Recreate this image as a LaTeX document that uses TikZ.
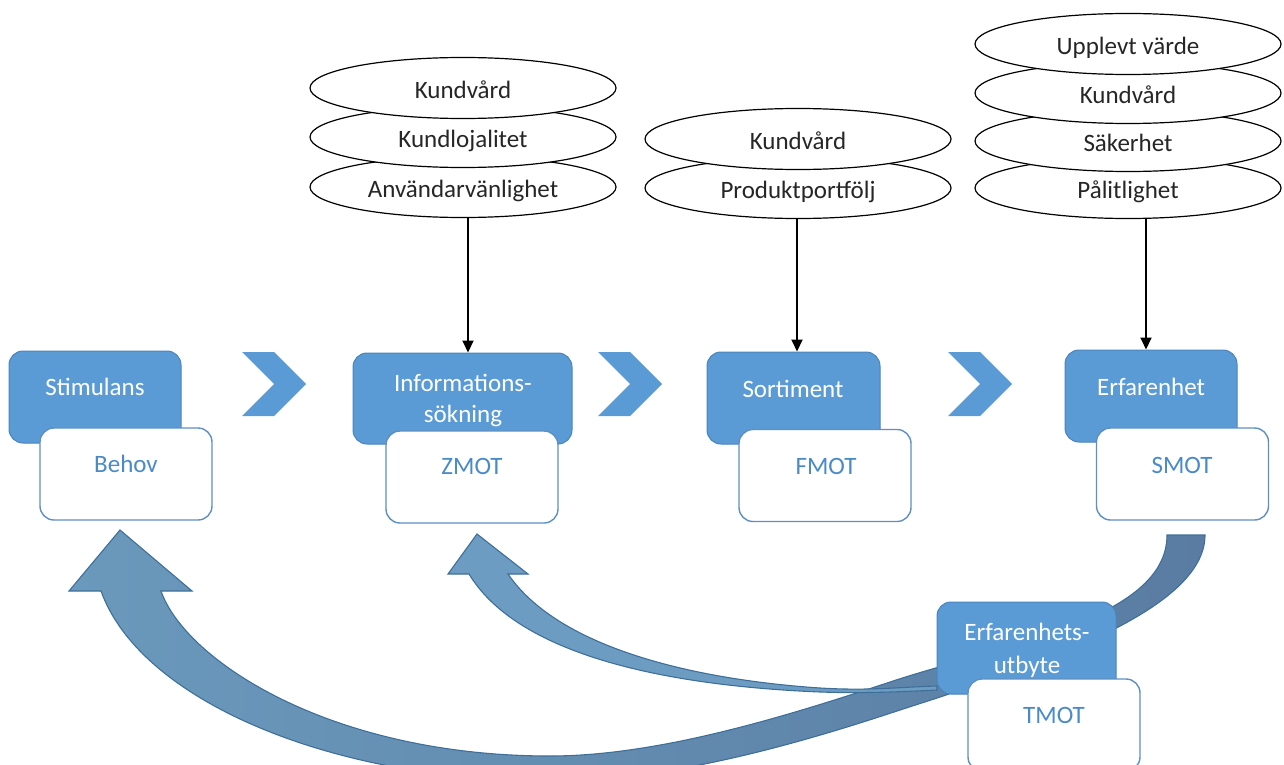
\documentclass[tikz,border=0pt]{standalone}
\usepackage{fontspec}
\setmainfont{Carlito}
\usetikzlibrary{arrows.meta,calc,shapes.geometric}
\definecolor{boxblue}{HTML}{5B9BD5}
\definecolor{boxedge}{HTML}{4A84BC}
\definecolor{wedge}{HTML}{5E8FC2}
\definecolor{txtblue}{HTML}{4A8AC9}
\definecolor{arrA}{HTML}{6A99BC}
\definecolor{arrB}{HTML}{5A7CA2}
\definecolor{arrC}{HTML}{6C9CC1}
\definecolor{arredge}{HTML}{3F6F99}
\definecolor{ovaltext}{HTML}{262626}
\begin{document}
\begin{tikzpicture}[x=1pt,y=-1pt,
  every node/.style={font=\fontsize{25}{31}\selectfont},
  bluebox/.style={draw=boxedge, line width=1pt, fill=boxblue, rounded corners=14pt, minimum height=92pt, inner sep=0pt},
  whitebox/.style={draw=wedge, line width=1.4pt, fill=white, rounded corners=14pt, minimum width=172pt, minimum height=92pt, inner sep=0pt},
  btext/.style={text=white, anchor=base, inner sep=0pt},
  wtext/.style={text=txtblue, anchor=base, inner sep=0pt},
  oval/.style={ellipse, draw=black, line width=1.2pt, fill=white, minimum width=306pt, minimum height=61pt, inner sep=0pt, text=ovaltext, text height=23pt, text depth=2pt},
  chev/.style={fill=boxblue},
  arr/.style={line width=2pt, -{Triangle[length=12pt,width=11pt]}},
  bigarrow/.style={draw=arredge, line width=1.1pt},
]
\clip (0,0) rectangle (1284,765);

% ---- ellipse stacks (drawn bottom first) ----
\node[oval] (e1c) at (463,187) {Användarvänlighet};
\node[oval] (e1b) at (463,137) {Kundlojalitet};
\node[oval] (e1a) at (463,88) {Kundvård};

\node[oval] (e2b) at (798,188) {Produktportfölj};
\node[oval] (e2a) at (798,139) {Kundvård};

\node[oval] (e3d) at (1128,188) {Pålitlighet};
\node[oval] (e3c) at (1128,141) {Säkerhet};
\node[oval] (e3b) at (1128,93) {Kundvård};
\node[oval] (e3a) at (1128,44) {Upplevt värde};

% ---- chevrons ----
\foreach \dx in {0,356,706}{
  \fill[chev] (242+\dx,352) -- (274+\dx,352) -- (306+\dx,384) -- (274+\dx,416) -- (242+\dx,416) -- (274+\dx,384) -- cycle;
}

% ---- big curved arrow (SMOT -> Behov) ----
\path[bigarrow, left color=arrA, right color=arrB]
 (120,530) -- (192,591) -- (161,591)
 .. controls (185,660) and (330,756) .. (550,756)
 .. controls (660,756) and (790,715) .. (887,683)
 .. controls (1000,645) and (1167,620) .. (1167,535)
 -- (1205,535)
 .. controls (1205,610) and (1040,665) .. (900,710)
 .. controls (780,750) and (660,781) .. (550,781)
 .. controls (330,781) and (140,700) .. (101,591)
 -- (69,591) -- cycle;

% ---- second curved arrow (TMOT -> ZMOT) ----
\path[bigarrow, fill=arrC]
 (477,534) -- (528,574) -- (508,574)
 .. controls (560,650) and (700,680) .. (820,688)
 .. controls (870,691) and (900,687) .. (937,686)
 -- (937,690)
 .. controls (880,693) and (850,693) .. (820,692)
 .. controls (650,685) and (515,650) .. (469,574)
 -- (448,574) -- cycle;

% ---- stage boxes ----
\node[bluebox, minimum width=172pt] (b1) at (95,397) {};
\node[whitebox] (w1) at (126,474) {};
\node[btext] (t1) at (95,395) {Stimulans};
\node[wtext] (u1) at (126,472) {Behov};

\node[bluebox, minimum width=219pt, minimum height=91pt] (b2) at (462.5,398.5) {};
\node[whitebox] (w2) at (472,477) {};
\node[btext] (t2a) at (463,391) {Informations-};
\node[btext] (t2b) at (463,422) {sökning};
\node[wtext] (u2) at (472,474) {ZMOT};

\node[bluebox, minimum width=173pt] (b3) at (793.5,398) {};
\node[whitebox] (w3) at (825,475.5) {};
\node[btext] (t3) at (793,397) {Sortiment};
\node[wtext] (u3) at (826,474) {FMOT};

\node[bluebox, minimum width=172pt] (b4) at (1151,396) {};
\node[whitebox] (w4) at (1182.5,474) {};
\node[btext] (t4) at (1151,395) {Erfarenhet};
\node[wtext] (u4) at (1182,473) {SMOT};

\node[bluebox, minimum width=179pt] (b5) at (1026.5,648) {};
\node[whitebox] (w5) at (1054,725) {};
\node[btext] (t5a) at (1027,640) {Erfarenhets-};
\node[btext] (t5b) at (1027,673) {utbyte};
\node[wtext] (u5) at (1054,723) {TMOT};

% ---- arrows from ellipse stacks ----
\coordinate (s1) at ([xshift=5pt]e1c.south);
\coordinate (s2) at ([xshift=-1pt]e2b.south);
\coordinate (s3) at ([xshift=18pt]e3d.south);
\draw[arr] (s1) -- (s1 |- b2.north);
\draw[arr] (s2) -- (s2 |- b3.north);
\draw[arr] (s3) -- (s3 |- b4.north);
\end{tikzpicture}
\end{document}
